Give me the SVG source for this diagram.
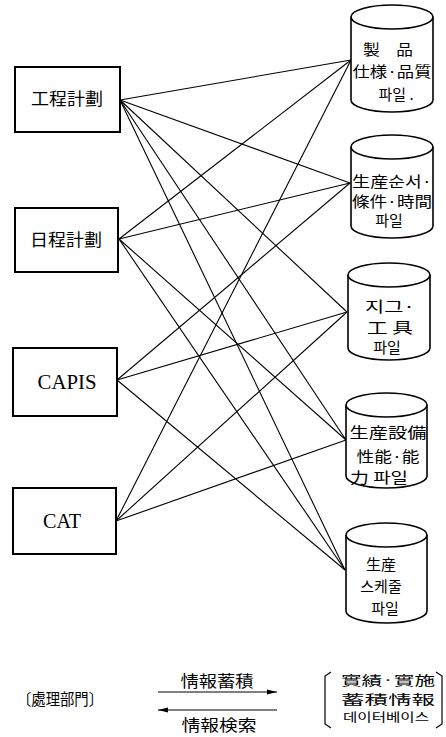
<svg xmlns="http://www.w3.org/2000/svg" width="446" height="737" viewBox="0 0 446 737">
<style>
.box{fill:#fff;stroke:#000;stroke-width:2}
.cyl{fill:#fff;stroke:#000;stroke-width:1.6}
.cj{font-family:"Noto Sans CJK KR","Noto Sans CJK JP",sans-serif;fill:#000}
.lat{font-family:"Liberation Serif",serif;fill:#000}
.con line{stroke:#000;stroke-width:1.1}
.ln{stroke:#000;stroke-width:1.2;fill:none}
</style>
<defs>
<marker id="ah" markerWidth="10" markerHeight="6" refX="10" refY="3" orient="auto" markerUnits="userSpaceOnUse">
<path d="M0,0.5 L10,3 L0,5.5 Z" fill="#000"/>
</marker>
</defs>
<rect x="0" y="0" width="446" height="737" fill="#fff"/>

<g id="connectors" class="con">
<line x1="120" y1="100" x2="351" y2="60"/>
<line x1="120" y1="100" x2="350" y2="183"/>
<line x1="120" y1="100" x2="347" y2="312"/>
<line x1="120" y1="100" x2="346" y2="440"/>
<line x1="120" y1="100" x2="345" y2="570"/>
<line x1="119" y1="239" x2="351" y2="60"/>
<line x1="119" y1="239" x2="350" y2="183"/>
<line x1="119" y1="239" x2="346" y2="440"/>
<line x1="119" y1="239" x2="345" y2="570"/>
<line x1="117" y1="380" x2="350" y2="183"/>
<line x1="117" y1="380" x2="347" y2="312"/>
<line x1="117" y1="380" x2="345" y2="570"/>
<line x1="116" y1="521" x2="351" y2="60"/>
<line x1="116" y1="521" x2="347" y2="312"/>
<line x1="116" y1="521" x2="346" y2="440"/>
</g>

<g id="box1">
<rect class="box" x="15" y="67" width="105" height="65"/>
<text class="cj" x="67" y="105" font-size="17" text-anchor="middle" textLength="72" lengthAdjust="spacingAndGlyphs">工程計劃</text>
</g>
<g id="box2">
<rect class="box" x="15" y="208" width="103" height="64"/>
<text class="cj" x="66" y="246" font-size="17" text-anchor="middle" textLength="72" lengthAdjust="spacingAndGlyphs">日程計劃</text>
</g>
<g id="box3">
<rect class="box" x="13" y="348" width="104" height="68"/>
<text class="lat" x="67" y="389" font-size="20" text-anchor="middle" textLength="59" lengthAdjust="spacingAndGlyphs">CAPIS</text>
</g>
<g id="box4">
<rect class="box" x="13" y="488" width="103" height="66"/>
<text class="lat" x="62" y="528" font-size="20" text-anchor="middle" textLength="38" lengthAdjust="spacingAndGlyphs">CAT</text>
</g>

<g id="cyl1">
<path class="cyl" d="M351,17 V100 A41,12 0 0 0 433,100 V17"/>
<ellipse class="cyl" cx="392" cy="17" rx="41" ry="12"/>
<text class="cj" x="388" y="55" font-size="15" text-anchor="middle" textLength="50" lengthAdjust="spacingAndGlyphs">製　品</text>
<text class="cj" x="392" y="77" font-size="15" text-anchor="middle" textLength="79" lengthAdjust="spacingAndGlyphs">仕様·品質</text>
<text class="cj" x="396" y="100" font-size="15" text-anchor="middle">파일 .</text>
</g>
<g id="cyl2">
<path class="cyl" d="M351,147 V226 A41,12 0 0 0 433,226 V147"/>
<ellipse class="cyl" cx="392" cy="147" rx="41" ry="12"/>
<text class="cj" x="392" y="187" font-size="15" text-anchor="middle" textLength="80" lengthAdjust="spacingAndGlyphs">生産순서·</text>
<text class="cj" x="392" y="207" font-size="15" text-anchor="middle" textLength="80" lengthAdjust="spacingAndGlyphs">條件·時間</text>
<text class="cj" x="389" y="226" font-size="15" text-anchor="middle">파일</text>
</g>
<g id="cyl3">
<path class="cyl" d="M348,275 V348 A41,12 0 0 0 430,348 V275"/>
<ellipse class="cyl" cx="389" cy="275" rx="41" ry="12"/>
<text class="cj" x="390" y="312" font-size="15" text-anchor="middle" textLength="50" lengthAdjust="spacingAndGlyphs">지그·</text>
<text class="cj" x="390" y="333" font-size="15" text-anchor="middle" textLength="46" lengthAdjust="spacingAndGlyphs">工 具</text>
<text class="cj" x="387" y="353" font-size="15" text-anchor="middle">파일</text>
</g>
<g id="cyl4">
<path class="cyl" d="M346,405 V476 A40.5,12 0 0 0 427,476 V405"/>
<ellipse class="cyl" cx="386.5" cy="405" rx="40.5" ry="12"/>
<text class="cj" x="388" y="438" font-size="15" text-anchor="middle" textLength="77" lengthAdjust="spacingAndGlyphs">生産設備</text>
<text class="cj" x="388" y="462" font-size="15" text-anchor="middle" textLength="63" lengthAdjust="spacingAndGlyphs">性能·能</text>
<text class="cj" x="379" y="483" font-size="15" text-anchor="middle" textLength="58" lengthAdjust="spacingAndGlyphs">力 파일</text>
</g>
<g id="cyl5">
<path class="cyl" d="M346,535 V611 A40.5,12 0 0 0 427,611 V535"/>
<ellipse class="cyl" cx="386.5" cy="535" rx="40.5" ry="12"/>
<text class="cj" x="381" y="570" font-size="15" text-anchor="middle">生産</text>
<text class="cj" x="381" y="592" font-size="15" text-anchor="middle">스케줄</text>
<text class="cj" x="385" y="614" font-size="15" text-anchor="middle">파일</text>
</g>

<g id="legend">
<text class="cj" x="17" y="705" font-size="16" textLength="86" lengthAdjust="spacingAndGlyphs">〔處理部門〕</text>
<text class="cj" x="217" y="687" font-size="16" text-anchor="middle" textLength="73" lengthAdjust="spacingAndGlyphs">情報蓄積</text>
<line class="ln" x1="158" y1="692" x2="277" y2="692" marker-end="url(#ah)"/>
<line class="ln" x1="277" y1="710" x2="158" y2="710" marker-end="url(#ah)"/>
<text class="cj" x="219" y="731" font-size="16" text-anchor="middle" textLength="75" lengthAdjust="spacingAndGlyphs">情報検索</text>
<path class="ln" d="M331,672 L325,676 V724 L331,728"/>
<path class="ln" d="M436,672 L442,676 V724 L436,728"/>
<text class="cj" x="388" y="685" font-size="13" text-anchor="middle" textLength="94" lengthAdjust="spacingAndGlyphs">實績·實施</text>
<text class="cj" x="388" y="704" font-size="13" text-anchor="middle" textLength="94" lengthAdjust="spacingAndGlyphs">蓄積情報</text>
<text class="cj" x="386" y="722" font-size="12" text-anchor="middle" textLength="86" lengthAdjust="spacingAndGlyphs">데이터베이스</text>
</g>
</svg>
